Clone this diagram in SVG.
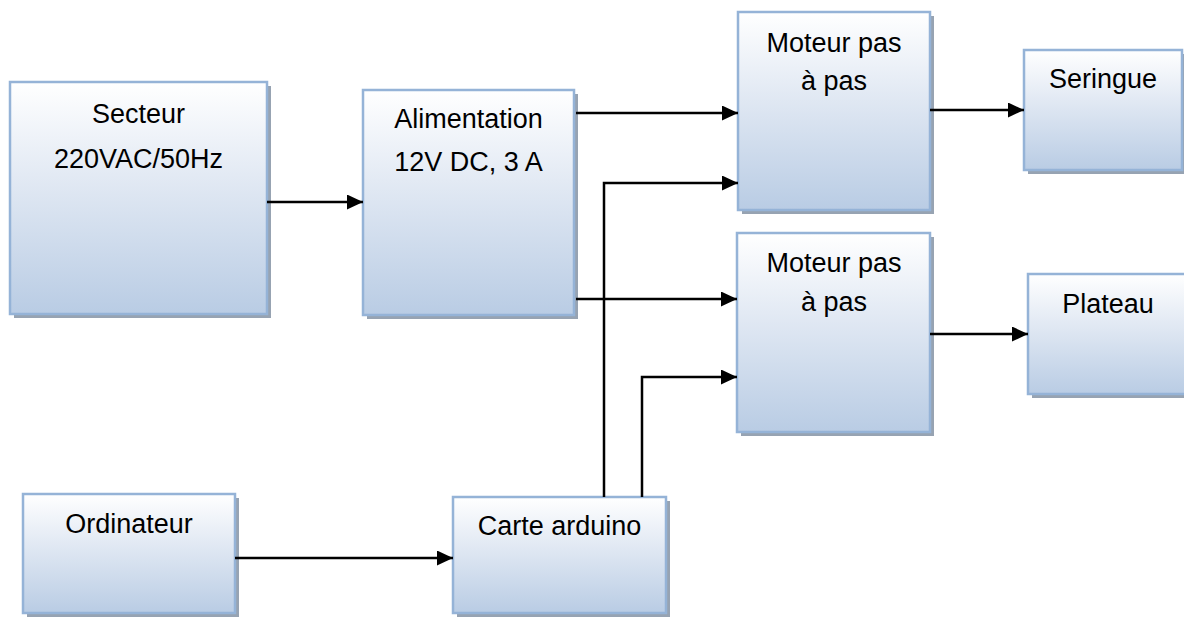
<svg xmlns="http://www.w3.org/2000/svg" width="1184" height="618" viewBox="0 0 1184 618">
<defs>
<linearGradient id="g" x1="0" y1="0" x2="0" y2="1">
<stop offset="0" stop-color="#ffffff"/>
<stop offset="0.4" stop-color="#e3eaf4"/>
<stop offset="1" stop-color="#b9cce4"/>
</linearGradient>
<marker id="ah" markerWidth="16" markerHeight="15" refX="16" refY="7.5" orient="auto" markerUnits="userSpaceOnUse">
<path d="M0,0 L16,7.5 L0,15 Z" fill="#000"/>
</marker>
</defs>
<style>
.sh{fill:#97a3b2}
.bx{fill:url(#g);stroke:#95b3d7;stroke-width:2.5}
.t{font-family:"Liberation Sans",Arial,sans-serif;font-size:27px;fill:#000;text-anchor:middle}
.c{fill:none;stroke:#000;stroke-width:2.5}
</style>
<rect width="1184" height="618" fill="#fff"/>
<g id="secteur">
<rect class="sh" x="14" y="86" width="257" height="232"/>
<rect class="bx" x="10" y="82" width="257" height="232"/>
<text class="t" x="138.5" y="123">Secteur</text>
<text class="t" x="138.5" y="168">220VAC/50Hz</text>
</g>
<g id="alimentation">
<rect class="sh" x="367" y="94" width="211" height="225"/>
<rect class="bx" x="363" y="90" width="211" height="225"/>
<text class="t" x="468.5" y="128">Alimentation</text>
<text class="t" x="468.5" y="171">12V DC, 3 A</text>
</g>
<g id="moteur1">
<rect class="sh" x="742" y="16" width="192" height="198"/>
<rect class="bx" x="738" y="12" width="192" height="198"/>
<text class="t" x="834" y="52">Moteur pas</text>
<text class="t" x="834" y="90">à pas</text>
</g>
<g id="seringue">
<rect class="sh" x="1028" y="54" width="158" height="120"/>
<rect class="bx" x="1024" y="50" width="158" height="120"/>
<text class="t" x="1103" y="88">Seringue</text>
</g>
<g id="moteur2">
<rect class="sh" x="741" y="237" width="193" height="199"/>
<rect class="bx" x="737" y="233" width="193" height="199"/>
<text class="t" x="834" y="272">Moteur pas</text>
<text class="t" x="834" y="311">à pas</text>
</g>
<g id="plateau">
<rect class="sh" x="1032" y="278" width="160" height="120"/>
<rect class="bx" x="1028" y="274" width="160" height="120"/>
<text class="t" x="1108" y="313">Plateau</text>
</g>
<g id="ordinateur">
<rect class="sh" x="27" y="498" width="212" height="119"/>
<rect class="bx" x="23" y="494" width="212" height="119"/>
<text class="t" x="129" y="533">Ordinateur</text>
</g>
<g id="arduino">
<rect class="sh" x="457" y="501" width="213" height="116"/>
<rect class="bx" x="453" y="497" width="213" height="116"/>
<text class="t" x="559.5" y="535">Carte arduino</text>
</g>
<g id="connectors">
<path class="c" d="M267,202 H363" marker-end="url(#ah)"/>
<path class="c" d="M576,113 H738" marker-end="url(#ah)"/>
<path class="c" d="M576,299 H737" marker-end="url(#ah)"/>
<path class="c" d="M604,497 V183 H738" marker-end="url(#ah)"/>
<path class="c" d="M642,497 V377 H737" marker-end="url(#ah)"/>
<path class="c" d="M930,110 H1024" marker-end="url(#ah)"/>
<path class="c" d="M930,334 H1028" marker-end="url(#ah)"/>
<path class="c" d="M235,558 H453" marker-end="url(#ah)"/>
</g>
</svg>
